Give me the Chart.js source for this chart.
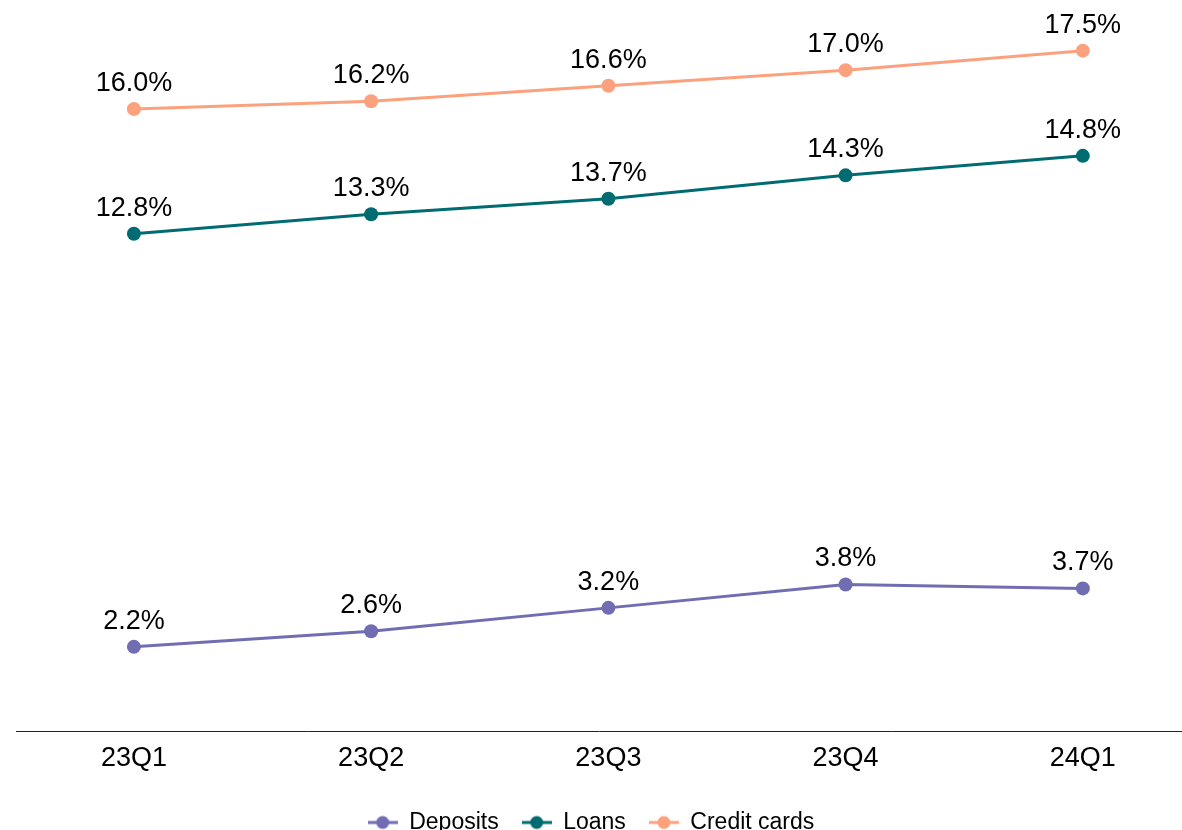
<!DOCTYPE html>
<html>
<head>
<meta charset="utf-8">
<script src="https://cdn.jsdelivr.net/npm/chart.js@4"></script>
<style>
  html, body { margin: 0; padding: 0; background: #fff; overflow: hidden; }
  #wrap { width: 1182px; height: 844px; position: relative; }
</style>
</head>
<body>
<div id="wrap"><canvas id="myChart"></canvas></div>
<script>
// Datos del grafico
const quarters = ['23Q1', '23Q2', '23Q3', '23Q4', '24Q1'];
const deposits = [2.2, 2.6, 3.2, 3.8, 3.7];
const loans = [12.8, 13.3, 13.7, 14.3, 14.8];
const creditCards = [16.0, 16.2, 16.6, 17.0, 17.5];

const FONT = '"Liberation Sans", Arial, sans-serif';

// Marcador de la leyenda: linea con circulo
function legendMarker(color) {
  const c = document.createElement('canvas');
  c.width = 30; c.height = 16;
  const g = c.getContext('2d');
  g.strokeStyle = color; g.lineWidth = 3;
  g.beginPath(); g.moveTo(0, 8); g.lineTo(30, 8); g.stroke();
  g.fillStyle = color;
  g.beginPath(); g.arc(15, 8, 6.5, 0, Math.PI * 2); g.fill();
  return c;
}

function serie(label, values, color) {
  return {
    label: label,
    data: values.map((v, i) => ({ x: i, y: v })),
    borderColor: color,
    backgroundColor: color,
    borderWidth: 3,
    pointRadius: 7,
    pointBorderWidth: 0,
    pointHoverRadius: 7,
    tension: 0,
    marker: legendMarker(color)
  };
}

// Etiquetas de valor encima de cada punto
const valueLabels = {
  id: 'valueLabels',
  afterDatasetsDraw(chart) {
    const ctx = chart.ctx;
    ctx.save();
    ctx.font = '27px ' + FONT;
    ctx.fillStyle = '#000';
    ctx.textAlign = 'center';
    ctx.textBaseline = 'alphabetic';
    chart.data.datasets.forEach((ds, i) => {
      chart.getDatasetMeta(i).data.forEach((pt, j) => {
        ctx.fillText(ds.data[j].y.toFixed(1) + '%', pt.x, pt.y - 18);
      });
    });
    ctx.restore();
  }
};

// Centrar la leyenda en todo el ancho del lienzo
const legendFullWidth = {
  id: 'legendFullWidth',
  afterLayout(chart) {
    if (chart.legend) {
      chart.legend.left = 0;
      chart.legend.right = chart.width;
      chart.legend.width = chart.width;
    }
  }
};

new Chart(document.getElementById('myChart'), {
  type: 'line',
  data: {
    datasets: [
      serie('Deposits', deposits, '#716db3'),
      serie('Loans', loans, '#006b70'),
      serie('Credit cards', creditCards, '#fca17d')
    ]
  },
  options: {
    responsive: true,
    maintainAspectRatio: false,
    animation: false,
    layout: { autoPadding: false, padding: { left: 16, right: 0, top: 0, bottom: 0 } },
    scales: {
      x: {
        type: 'linear',
        min: -0.497,
        max: 4.418,
        grid: { display: false, drawTicks: false },
        border: { display: true, color: '#222', width: 1 },
        afterBuildTicks: (scale) => { scale.ticks = quarters.map((q, i) => ({ value: i })); },
        afterFit: (scale) => { scale.height = 57; },
        ticks: {
          padding: 11,
          color: '#000',
          font: { size: 27, family: FONT },
          maxRotation: 0,
          callback: (v) => quarters[v]
        }
      },
      y: {
        display: false,
        min: 0.04,
        max: 18.8
      }
    },
    plugins: {
      tooltip: { enabled: false },
      legend: {
        position: 'bottom',
        labels: {
          usePointStyle: true,
          pointStyleWidth: 30,
          padding: 23,
          color: '#000',
          font: { size: 23, family: FONT },
          generateLabels: (chart) => {
            const items = Chart.defaults.plugins.legend.labels.generateLabels(chart);
            items.forEach((it) => { it.pointStyle = chart.data.datasets[it.datasetIndex].marker; });
            return items;
          }
        }
      }
    }
  },
  plugins: [valueLabels, legendFullWidth]
});
</script>
</body>
</html>
